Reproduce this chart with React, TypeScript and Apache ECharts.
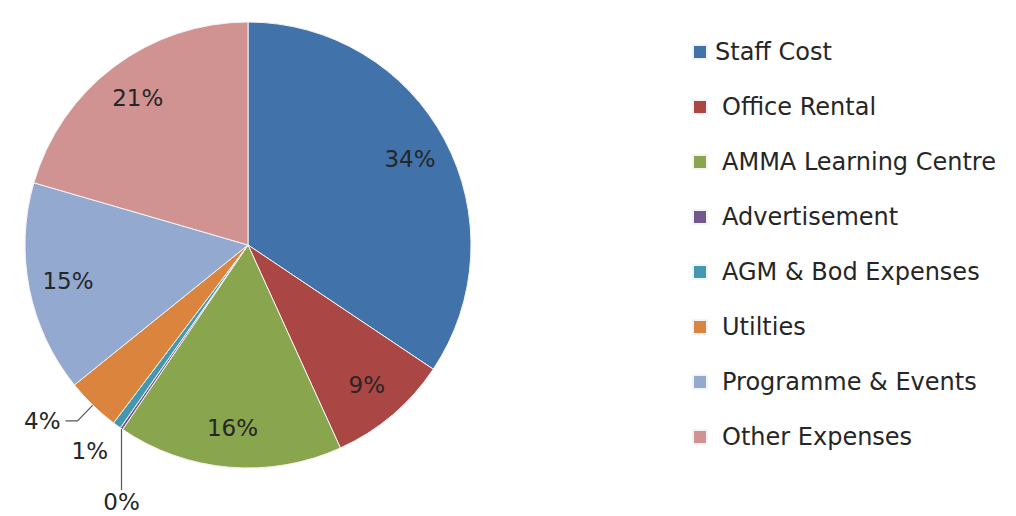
import React, { useEffect, useRef } from "react";
import * as echarts from "echarts";

const categories = [
  "Staff Cost",
  "Office Rental",
  "AMMA Learning Centre",
  "Advertisement",
  "AGM & Bod Expenses",
  "Utilties",
  "Programme & Events",
  "Other Expenses",
];
const values = [34.4, 8.8, 16.3, 0.2, 0.6, 3.9, 15.3, 20.5];
const colors = ["#4172A9", "#AA4643", "#89A54E", "#71588F", "#4198AF", "#DB843D", "#93A9CF", "#D19392"];
const smallSlices = [3, 4, 5];

const FONT = "'DejaVu Sans', sans-serif";
const R = 223;
const CENTER = [248, 245];

export default function App() {
  const ref = useRef<HTMLDivElement>(null);
  useEffect(() => {
    if (!ref.current) return;
    const chart = echarts.init(ref.current, null, { renderer: "svg" });
    const fmt = (p: any) => `${Math.round(p.percent)}%`;
    const mainData = categories.map((name, i) => {
      const item: any = { name, value: values[i], itemStyle: { color: colors[i] } };
      if (i === 5) {
        item.label = { show: true, position: "outside" };
        item.labelLine = { show: true, length: 22, length2: 12 };
      } else if (i === 4) {
        item.label = { show: true, position: "outside", distanceToLabelLine: 0 };
        item.labelLine = { show: false, length: 32, length2: 0 };
      } else if (i === 3) {
        item.label = { show: true, position: "outside" };
        item.labelLine = { show: true, length: 20, length2: 0 };
      }
      return item;
    });
    const overlayData = categories.map((name, i) => ({
      name,
      value: values[i],
      label: { show: !smallSlices.includes(i) },
    }));
    chart.setOption({
      animation: false,
      backgroundColor: "#ffffff",
      color: colors,
      legend: {
        orient: "vertical",
        left: 687,
        top: 35,
        itemWidth: 14,
        itemHeight: 14,
        itemGap: 31,
        icon: "rect",
        selectedMode: false,
        data: categories.map((name, i) => ({
          name,
          textStyle: { padding: [0, 0, 0, i === 0 ? 3 : 10] },
        })),
        textStyle: { fontFamily: FONT, fontSize: 24, lineHeight: 24, color: "#262626" },
      },
      series: [
        {
          type: "pie",
          center: CENTER,
          radius: [0, R],
          startAngle: 90,
          clockwise: true,
          avoidLabelOverlap: false,
          silent: true,
          itemStyle: { borderColor: "#f4f4f4", borderWidth: 1 },
          label: {
            show: false,
            formatter: fmt,
            fontFamily: FONT,
            fontSize: 23,
            color: "#262626",
          },
          labelLine: { show: false, lineStyle: { color: "#555", width: 1.2 }, smooth: false },
          labelLayout: (p: any) => {
            if (p.dataIndex === 3 && p.labelLinePoints) {
              const a = p.labelLinePoints[0];
              return { x: a[0], y: a[1] + 73, align: "center", verticalAlign: "middle" };
            }
            if (p.dataIndex === 4) {
              return { dx: 10 };
            }
            return {};
          },
          data: mainData,
        },
        {
          type: "pie",
          center: CENTER,
          radius: [0, R * 1.62],
          startAngle: 90,
          clockwise: true,
          silent: true,
          avoidLabelOverlap: false,
          itemStyle: { color: "rgba(0,0,0,0)", borderWidth: 0 },
          label: {
            show: true,
            position: "inside",
            formatter: fmt,
            fontFamily: FONT,
            fontSize: 23,
            color: "#262626",
          },
          labelLine: { show: false },
          data: overlayData,
        },
      ],
    });
    return () => chart.dispose();
  }, []);
  return (
    <div
      ref={ref}
      style={{ position: "fixed", left: 0, top: 0, width: 1016, height: 516, background: "#fff" }}
    />
  );
}
